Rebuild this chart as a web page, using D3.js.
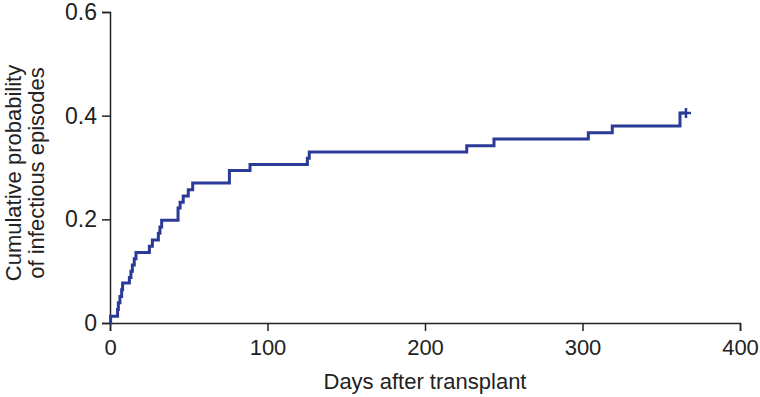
<!DOCTYPE html>
<html>
<head>
<meta charset="utf-8">
<script src="https://cdn.jsdelivr.net/npm/d3@7"></script>
<style>
  body { margin: 0; background: #fff; }
  .tick text { font-family: "Liberation Sans", Arial, sans-serif; }
</style>
</head>
<body>
<div id="kmchart"></div>
<script>

// event times (days) and cumulative probability after each step
var eventDays = [0.4, 4.8, 5.3, 6.3, 7.4, 8.0, 12.3, 13.3, 14.2, 15.4, 16.5,
                 25.0, 26.9, 30.7, 31.7, 32.8, 43.2, 44.5, 46.5, 49.7, 52.5,
                 75.8, 88.9, 125.3, 126.5, 226.5, 243.8, 303.7, 318.9, 361.9];
var cumProb   = [0.013, 0.026, 0.039, 0.051, 0.064, 0.077, 0.088, 0.100, 0.112, 0.124, 0.136,
                 0.148, 0.160, 0.173, 0.185, 0.198, 0.222, 0.233, 0.245, 0.257, 0.270,
                 0.294, 0.306, 0.318, 0.330, 0.342, 0.355, 0.367, 0.380, 0.405];
var lastFollowUp = 365.7;   // censored at end
var xTicks = [0, 100, 200, 300, 400];
var yTicks = [0, 0.2, 0.4, 0.6];
var xTitle = "Days after transplant";
var yTitle = ["Cumulative probability", "of infectious episodes"];

var margin = {top: 12, right: 20, bottom: 74, left: 110},
    width  = 760 - margin.left - margin.right,
    height = 397 - margin.top - margin.bottom;

var svg = d3.select("#kmchart").append("svg")
    .attr("width", 760)
    .attr("height", 397);

var g = svg.append("g")
    .attr("transform", "translate(" + margin.left + "," + margin.top + ")");

var x = d3.scaleLinear().domain([0, 400]).range([0, width]);
var y = d3.scaleLinear().domain([0, 0.6]).range([height, 0]);

// build step points
var pts = [[0, 0]];
for (var i = 0; i < eventDays.length; i++) {
  pts.push([eventDays[i], cumProb[i]]);
}
pts.push([lastFollowUp, cumProb[cumProb.length - 1]]);

var line = d3.line()
    .x(function(d) { return x(d[0]); })
    .y(function(d) { return y(d[1]); })
    .curve(d3.curveStepAfter);

var xAxis = d3.axisBottom(x).tickValues(xTicks).tickSize(8).tickPadding(8)
    .tickFormat(d3.format("d"));
var yAxis = d3.axisLeft(y).tickValues(yTicks).tickSize(8).tickPadding(5)
    .tickFormat(function(d) { return d === 0 ? "0" : d3.format(".1f")(d); });

var gx = g.append("g")
    .attr("transform", "translate(0," + height + ")")
    .call(xAxis);
var gy = g.append("g").call(yAxis);

[gx, gy].forEach(function(a) {
  a.select(".domain").attr("stroke", "#222").attr("stroke-width", 1.5);
  a.selectAll(".tick line").attr("stroke", "#222").attr("stroke-width", 1.5);
  a.selectAll(".tick text").attr("fill", "#222");
});
gy.selectAll(".tick text").attr("font-size", 23);
gx.selectAll(".tick text").attr("font-size", 22);

g.append("path")
    .datum(pts)
    .attr("fill", "none")
    .attr("stroke", "#2b3a96")
    .attr("stroke-width", 3)
    .attr("d", line);

// censor mark
var cx = x(lastFollowUp), cy = y(cumProb[cumProb.length - 1]);
g.append("path")
    .attr("d", "M" + (cx - 5) + "," + cy + "H" + (cx + 5) + "M" + cx + "," + (cy - 5) + "V" + (cy + 5))
    .attr("stroke", "#2b3a96")
    .attr("stroke-width", 2.5);

svg.append("text")
    .attr("x", margin.left + width / 2)
    .attr("y", 389)
    .attr("text-anchor", "middle")
    .attr("font-family", "Liberation Sans, Arial, sans-serif")
    .attr("font-size", 22)
    .attr("fill", "#222")
    .text(xTitle);

var yt = svg.append("text")
    .attr("transform", "translate(21,173) rotate(-90)")
    .attr("text-anchor", "middle")
    .attr("font-family", "Liberation Sans, Arial, sans-serif")
    .attr("font-size", 22)
    .attr("fill", "#222");
yt.selectAll("tspan")
    .data(yTitle)
    .enter().append("tspan")
    .attr("x", 0)
    .attr("dy", function(d, i) { return i === 0 ? 0 : 23; })
    .text(function(d) { return d; });

</script>
</body>
</html>
